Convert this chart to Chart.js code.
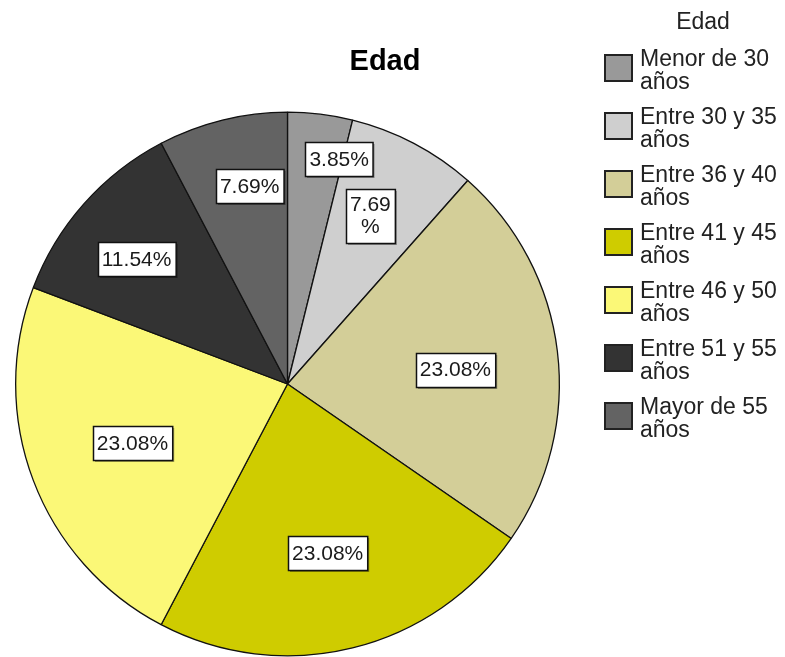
<!DOCTYPE html>
<html>
<head>
<meta charset="utf-8">
<script src="https://cdn.jsdelivr.net/npm/chart.js@4/dist/chart.umd.min.js"></script>
<style>
  html, body { margin: 0; padding: 0; background: #fff; }
  #wrap { width: 785px; height: 657px; position: relative; }
</style>
</head>
<body>
<div id="wrap"><canvas id="chart" width="785" height="657"></canvas></div>
<script>
// data (26 cases)
const chartTitle = "Edad";
const legendTitle = "Edad";
const categories = [
  ["Menor de 30", "años"],
  ["Entre 30 y 35", "años"],
  ["Entre 36 y 40", "años"],
  ["Entre 41 y 45", "años"],
  ["Entre 46 y 50", "años"],
  ["Entre 51 y 55", "años"],
  ["Mayor de 55", "años"],
];
const percents = [3.85, 7.69, 23.08, 23.08, 23.08, 11.54, 7.69];
const sliceColors = ["#999999", "#cfcfcf", "#d3ce98", "#cfcc00", "#fbf877", "#333333", "#636363"];

// label placement (style only): radius fraction and angle nudge in degrees
const labelRadius = [0.85, 0.69, 0.62, 0.64, 0.61, 0.72, 0.74];
const labelNudge = [6, -1.5, 2, 0.5, 0, -2, 3];
const labelWrap = [false, true, false, false, false, false, false];

const FONT = "'Liberation Sans', Arial, sans-serif";

const overlay = {
  id: "overlay",
  afterDraw(chart) {
    const ctx = chart.ctx;
    const meta = chart.getDatasetMeta(0);

    // slice labels in white boxes
    ctx.save();
    ctx.font = "21px " + FONT;
    ctx.textAlign = "center";
    ctx.textBaseline = "middle";
    meta.data.forEach((arc, i) => {
      const p = arc.getProps(["x", "y", "startAngle", "endAngle", "outerRadius"], true);
      const mid = (p.startAngle + p.endAngle) / 2 + labelNudge[i] * Math.PI / 180;
      const r = p.outerRadius * labelRadius[i];
      const cx = p.x + Math.cos(mid) * r;
      const cy = p.y + Math.sin(mid) * r;
      const txt = percents[i].toFixed(2) + "%";
      const lines = labelWrap[i] ? [percents[i].toFixed(2), "%"] : [txt];
      const w = Math.max(...lines.map(l => ctx.measureText(l).width)) + 8;
      const lh = 22;
      const h = lines.length === 1 ? 34 : lines.length * lh + 10;
      const x0 = Math.round(cx - w / 2) + 0.5;
      const y0 = Math.round(cy - h / 2) + 0.5;
      ctx.fillStyle = "rgba(0,0,0,0.35)";
      ctx.fillRect(x0 + 1.5, y0 + 1.5, w, h);
      ctx.fillStyle = "#ffffff";
      ctx.fillRect(x0, y0, w, h);
      ctx.strokeStyle = "#111";
      ctx.lineWidth = 1.5;
      ctx.strokeRect(x0, y0, w, h);
      ctx.fillStyle = "#1a1a1a";
      lines.forEach((l, k) => {
        ctx.fillText(l, cx, cy - (lines.length - 1) * lh / 2 + k * lh + 1);
      });
    });
    ctx.restore();

    // chart title
    ctx.save();
    ctx.font = "bold 29px " + FONT;
    ctx.fillStyle = "#000";
    ctx.textAlign = "center";
    ctx.textBaseline = "alphabetic";
    ctx.fillText(chartTitle, 385, 70);
    ctx.restore();

    // legend
    ctx.save();
    ctx.fillStyle = "#222";
    ctx.textBaseline = "alphabetic";
    ctx.font = "23px " + FONT;
    ctx.textAlign = "center";
    ctx.fillText(legendTitle, 703, 29);
    ctx.textAlign = "left";
    categories.forEach((lines, i) => {
      const base = 66 + i * 58;
      ctx.fillStyle = sliceColors[i];
      ctx.fillRect(605, base - 11, 27, 26);
      ctx.strokeStyle = "#222";
      ctx.lineWidth = 2;
      ctx.strokeRect(605, base - 11, 27, 26);
      ctx.fillStyle = "#222";
      lines.forEach((l, k) => ctx.fillText(l, 640, base + k * 23));
    });
    ctx.restore();
  },
};

new Chart(document.getElementById("chart"), {
  type: "pie",
  data: {
    labels: categories.map(c => c.join(" ")),
    datasets: [{
      data: percents,
      backgroundColor: sliceColors,
      borderColor: "#111",
      borderWidth: 1.3,
      hoverOffset: 0,
    }],
  },
  options: {
    responsive: false,
    animation: false,
    layout: { padding: { left: 15, top: 111, right: 225, bottom: 0 } },
    plugins: {
      legend: { display: false },
      title: { display: false },
      tooltip: { enabled: false },
    },
  },
  plugins: [overlay],
});
</script>
</body>
</html>
